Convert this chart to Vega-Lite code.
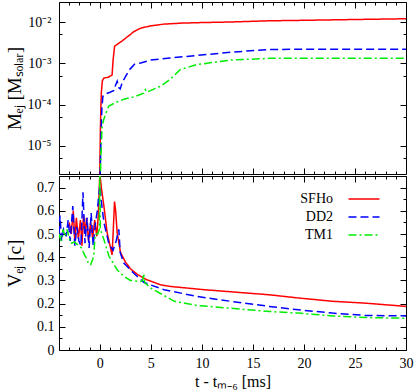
{
  "$schema": "https://vega.github.io/schema/vega-lite/v6.json",
  "autosize": {"type": "pad"},
  "padding": {"left": 4, "top": 1, "right": 10, "bottom": 0},
  "spacing": 0,
  "resolve": {"scale": {"color": "independent", "strokeDash": "independent"}, "legend": {"color": "independent", "strokeDash": "independent"}},
  "config": {
    "view": {"stroke": "#000", "strokeWidth": 1},
    "axis": {"domain": false, "grid": false, "minExtent": 0, "tickColor": "#000", "tickWidth": 1, "labelColor": "#000", "titleColor": "#000", "labelFont": "Liberation Serif", "titleFont": "Liberation Serif", "labelFontSize": 14, "titleFontSize": 16, "titleFontWeight": "normal", "labelFlush": false, "labelOverlap": false, "labelBound": false},
    "axisX": {"minExtent": 0},
    "axisY": {"minExtent": 0},
    "legend": {"labelFont": "Liberation Serif", "labelFontSize": 14, "labelColor": "#000"}
  },
  "datasets": {
    "mass": [
      {"eos": "SFHo", "t": -0.05, "m": 1e-6}, {"eos": "SFHo", "t": 0.0, "m": 3e-6}, {"eos": "SFHo", "t": 0.05, "m": 2e-5}, {"eos": "SFHo", "t": 0.1, "m": 8e-5}, {"eos": "SFHo", "t": 0.15, "m": 2e-4}, {"eos": "SFHo", "t": 0.25, "m": 3.8e-4}, {"eos": "SFHo", "t": 0.4, "m": 4.4e-4}, {"eos": "SFHo", "t": 0.8, "m": 4.6e-4}, {"eos": "SFHo", "t": 1.2, "m": 5.2e-4}, {"eos": "SFHo", "t": 1.3, "m": 1.2e-3}, {"eos": "SFHo", "t": 1.45, "m": 2.6e-3}, {"eos": "SFHo", "t": 1.8, "m": 3.0e-3}, {"eos": "SFHo", "t": 2.2, "m": 3.5e-3}, {"eos": "SFHo", "t": 2.7, "m": 4.4e-3}, {"eos": "SFHo", "t": 3.0, "m": 5.0e-3}, {"eos": "SFHo", "t": 3.3, "m": 5.8e-3}, {"eos": "SFHo", "t": 4.0, "m": 7.1e-3}, {"eos": "SFHo", "t": 5.0, "m": 8.1e-3}, {"eos": "SFHo", "t": 6.3, "m": 8.9e-3}, {"eos": "SFHo", "t": 8.0, "m": 9.4e-3}, {"eos": "SFHo", "t": 10.0, "m": 9.7e-3}, {"eos": "SFHo", "t": 12.8, "m": 1.0e-2}, {"eos": "SFHo", "t": 16.6, "m": 1.07e-2}, {"eos": "SFHo", "t": 20, "m": 1.1e-2}, {"eos": "SFHo", "t": 25, "m": 1.15e-2}, {"eos": "SFHo", "t": 30, "m": 1.2e-2},
      {"eos": "DD2", "t": -0.02, "m": 1e-6}, {"eos": "DD2", "t": 0.05, "m": 3e-6}, {"eos": "DD2", "t": 0.12, "m": 2e-5}, {"eos": "DD2", "t": 0.2, "m": 8e-5}, {"eos": "DD2", "t": 0.3, "m": 1.6e-4}, {"eos": "DD2", "t": 0.5, "m": 1.8e-4}, {"eos": "DD2", "t": 1.0, "m": 2.0e-4}, {"eos": "DD2", "t": 1.4, "m": 2.2e-4}, {"eos": "DD2", "t": 1.55, "m": 3.0e-4}, {"eos": "DD2", "t": 1.7, "m": 3.7e-4}, {"eos": "DD2", "t": 1.85, "m": 2.6e-4}, {"eos": "DD2", "t": 2.0, "m": 2.4e-4}, {"eos": "DD2", "t": 2.2, "m": 3.5e-4}, {"eos": "DD2", "t": 2.5, "m": 4.7e-4}, {"eos": "DD2", "t": 2.9, "m": 7.0e-4}, {"eos": "DD2", "t": 3.4, "m": 9.5e-4}, {"eos": "DD2", "t": 4.0, "m": 1.02e-3}, {"eos": "DD2", "t": 5.0, "m": 1.2e-3}, {"eos": "DD2", "t": 6.9, "m": 1.35e-3}, {"eos": "DD2", "t": 9.5, "m": 1.55e-3}, {"eos": "DD2", "t": 12.8, "m": 1.86e-3}, {"eos": "DD2", "t": 16.6, "m": 2.16e-3}, {"eos": "DD2", "t": 20, "m": 2.2e-3}, {"eos": "DD2", "t": 25, "m": 2.2e-3}, {"eos": "DD2", "t": 30, "m": 2.2e-3},
      {"eos": "TM1", "t": 0.0, "m": 1e-6}, {"eos": "TM1", "t": 0.08, "m": 3e-6}, {"eos": "TM1", "t": 0.15, "m": 1.2e-5}, {"eos": "TM1", "t": 0.23, "m": 3.1e-5}, {"eos": "TM1", "t": 0.4, "m": 4.5e-5}, {"eos": "TM1", "t": 0.56, "m": 5.9e-5}, {"eos": "TM1", "t": 0.88, "m": 9.3e-5}, {"eos": "TM1", "t": 1.54, "m": 1.12e-4}, {"eos": "TM1", "t": 2.35, "m": 1.35e-4}, {"eos": "TM1", "t": 3.0, "m": 1.48e-4}, {"eos": "TM1", "t": 3.4, "m": 1.55e-4}, {"eos": "TM1", "t": 4.3, "m": 1.9e-4}, {"eos": "TM1", "t": 4.45, "m": 2.3e-4}, {"eos": "TM1", "t": 4.6, "m": 2.0e-4}, {"eos": "TM1", "t": 5.95, "m": 2.8e-4}, {"eos": "TM1", "t": 6.9, "m": 4.1e-4}, {"eos": "TM1", "t": 7.9, "m": 7.1e-4}, {"eos": "TM1", "t": 9.5, "m": 9.3e-4}, {"eos": "TM1", "t": 12.8, "m": 1.2e-3}, {"eos": "TM1", "t": 16.6, "m": 1.32e-3}, {"eos": "TM1", "t": 20, "m": 1.32e-3}, {"eos": "TM1", "t": 30, "m": 1.32e-3}
    ],
    "vel": [
      {"eos": "SFHo", "t": -3.0, "v": 0.55}, {"eos": "SFHo", "t": -2.8, "v": 0.5}, {"eos": "SFHo", "t": -2.6, "v": 0.6}, {"eos": "SFHo", "t": -2.45, "v": 0.47}, {"eos": "SFHo", "t": -2.3, "v": 0.57}, {"eos": "SFHo", "t": -2.1, "v": 0.48}, {"eos": "SFHo", "t": -1.9, "v": 0.56}, {"eos": "SFHo", "t": -1.75, "v": 0.45}, {"eos": "SFHo", "t": -1.6, "v": 0.58}, {"eos": "SFHo", "t": -1.45, "v": 0.5}, {"eos": "SFHo", "t": -1.3, "v": 0.57}, {"eos": "SFHo", "t": -1.1, "v": 0.47}, {"eos": "SFHo", "t": -0.9, "v": 0.55}, {"eos": "SFHo", "t": -0.7, "v": 0.48}, {"eos": "SFHo", "t": -0.5, "v": 0.56}, {"eos": "SFHo", "t": -0.3, "v": 0.49}, {"eos": "SFHo", "t": -0.15, "v": 0.58}, {"eos": "SFHo", "t": 0.0, "v": 0.76}, {"eos": "SFHo", "t": 0.15, "v": 0.7}, {"eos": "SFHo", "t": 0.4, "v": 0.62}, {"eos": "SFHo", "t": 0.72, "v": 0.505}, {"eos": "SFHo", "t": 1.05, "v": 0.44}, {"eos": "SFHo", "t": 1.2, "v": 0.41}, {"eos": "SFHo", "t": 1.3, "v": 0.5}, {"eos": "SFHo", "t": 1.44, "v": 0.64}, {"eos": "SFHo", "t": 1.55, "v": 0.6}, {"eos": "SFHo", "t": 1.7, "v": 0.505}, {"eos": "SFHo", "t": 2.03, "v": 0.42}, {"eos": "SFHo", "t": 2.5, "v": 0.38}, {"eos": "SFHo", "t": 3.0, "v": 0.35}, {"eos": "SFHo", "t": 3.7, "v": 0.325}, {"eos": "SFHo", "t": 4.6, "v": 0.303}, {"eos": "SFHo", "t": 5.95, "v": 0.281}, {"eos": "SFHo", "t": 6.9, "v": 0.274}, {"eos": "SFHo", "t": 10.2, "v": 0.26}, {"eos": "SFHo", "t": 16.6, "v": 0.238}, {"eos": "SFHo", "t": 19.5, "v": 0.224}, {"eos": "SFHo", "t": 22.8, "v": 0.21}, {"eos": "SFHo", "t": 26, "v": 0.202}, {"eos": "SFHo", "t": 30, "v": 0.188},
      {"eos": "DD2", "t": -4.0, "v": 0.5}, {"eos": "DD2", "t": -3.9, "v": 0.58}, {"eos": "DD2", "t": -3.75, "v": 0.47}, {"eos": "DD2", "t": -3.55, "v": 0.52}, {"eos": "DD2", "t": -3.3, "v": 0.49}, {"eos": "DD2", "t": -3.1, "v": 0.56}, {"eos": "DD2", "t": -2.9, "v": 0.47}, {"eos": "DD2", "t": -2.65, "v": 0.62}, {"eos": "DD2", "t": -2.45, "v": 0.45}, {"eos": "DD2", "t": -2.25, "v": 0.53}, {"eos": "DD2", "t": -2.05, "v": 0.47}, {"eos": "DD2", "t": -1.85, "v": 0.45}, {"eos": "DD2", "t": -1.65, "v": 0.68}, {"eos": "DD2", "t": -1.45, "v": 0.46}, {"eos": "DD2", "t": -1.25, "v": 0.57}, {"eos": "DD2", "t": -1.05, "v": 0.44}, {"eos": "DD2", "t": -0.85, "v": 0.59}, {"eos": "DD2", "t": -0.65, "v": 0.45}, {"eos": "DD2", "t": -0.45, "v": 0.54}, {"eos": "DD2", "t": -0.25, "v": 0.6}, {"eos": "DD2", "t": 0.0, "v": 0.71}, {"eos": "DD2", "t": 0.15, "v": 0.64}, {"eos": "DD2", "t": 0.4, "v": 0.55}, {"eos": "DD2", "t": 0.9, "v": 0.455}, {"eos": "DD2", "t": 1.3, "v": 0.43}, {"eos": "DD2", "t": 1.6, "v": 0.47}, {"eos": "DD2", "t": 1.86, "v": 0.52}, {"eos": "DD2", "t": 2.0, "v": 0.42}, {"eos": "DD2", "t": 2.35, "v": 0.375}, {"eos": "DD2", "t": 3.3, "v": 0.332}, {"eos": "DD2", "t": 4.3, "v": 0.292}, {"eos": "DD2", "t": 5.0, "v": 0.28}, {"eos": "DD2", "t": 6.3, "v": 0.26}, {"eos": "DD2", "t": 9.5, "v": 0.231}, {"eos": "DD2", "t": 12.8, "v": 0.21}, {"eos": "DD2", "t": 16.6, "v": 0.188}, {"eos": "DD2", "t": 19.5, "v": 0.173}, {"eos": "DD2", "t": 22.8, "v": 0.159}, {"eos": "DD2", "t": 26, "v": 0.149}, {"eos": "DD2", "t": 30, "v": 0.147},
      {"eos": "TM1", "t": -4.0, "v": 0.5}, {"eos": "TM1", "t": -3.8, "v": 0.47}, {"eos": "TM1", "t": -3.6, "v": 0.52}, {"eos": "TM1", "t": -3.4, "v": 0.49}, {"eos": "TM1", "t": -3.2, "v": 0.52}, {"eos": "TM1", "t": -3.0, "v": 0.48}, {"eos": "TM1", "t": -2.8, "v": 0.46}, {"eos": "TM1", "t": -2.5, "v": 0.465}, {"eos": "TM1", "t": -2.2, "v": 0.455}, {"eos": "TM1", "t": -1.8, "v": 0.44}, {"eos": "TM1", "t": -1.5, "v": 0.41}, {"eos": "TM1", "t": -1.24, "v": 0.39}, {"eos": "TM1", "t": -1.1, "v": 0.37}, {"eos": "TM1", "t": -0.9, "v": 0.368}, {"eos": "TM1", "t": -0.7, "v": 0.39}, {"eos": "TM1", "t": -0.6, "v": 0.404}, {"eos": "TM1", "t": -0.45, "v": 0.5}, {"eos": "TM1", "t": -0.2, "v": 0.5}, {"eos": "TM1", "t": -0.05, "v": 0.52}, {"eos": "TM1", "t": 0.0, "v": 0.8}, {"eos": "TM1", "t": 0.05, "v": 0.52}, {"eos": "TM1", "t": 0.4, "v": 0.476}, {"eos": "TM1", "t": 0.9, "v": 0.404}, {"eos": "TM1", "t": 1.7, "v": 0.346}, {"eos": "TM1", "t": 2.35, "v": 0.318}, {"eos": "TM1", "t": 3.0, "v": 0.3}, {"eos": "TM1", "t": 4.0, "v": 0.295}, {"eos": "TM1", "t": 4.2, "v": 0.3}, {"eos": "TM1", "t": 4.3, "v": 0.33}, {"eos": "TM1", "t": 4.4, "v": 0.29}, {"eos": "TM1", "t": 5.0, "v": 0.267}, {"eos": "TM1", "t": 7.3, "v": 0.21}, {"eos": "TM1", "t": 9.5, "v": 0.192}, {"eos": "TM1", "t": 12.8, "v": 0.18}, {"eos": "TM1", "t": 16.6, "v": 0.166}, {"eos": "TM1", "t": 19.5, "v": 0.159}, {"eos": "TM1", "t": 22.8, "v": 0.147}, {"eos": "TM1", "t": 26, "v": 0.14}, {"eos": "TM1", "t": 30, "v": 0.137}
    ]
  },
  "vconcat": [
    {
      "width": 347,
      "height": 172,
      "data": {"name": "mass"},
      "resolve": {"axis": {"x": "independent", "y": "independent"}},
      "layer": [
        {
          "mark": {"type": "line", "clip": true, "strokeWidth": 1.5},
          "encoding": {
            "x": {"field": "t", "type": "quantitative", "scale": {"domain": [-4, 30], "nice": false, "zero": false},
                  "axis": {"orient": "bottom", "values": [0, 5, 10, 15, 20, 25, 30], "tickSize": -6, "labels": false, "title": null}},
            "y": {"field": "m", "type": "quantitative", "scale": {"type": "log", "domain": [2.1e-6, 3.05e-2], "nice": false},
                  "axis": {"orient": "left", "values": [1e-5, 1e-4, 1e-3, 1e-2], "tickSize": -6, "labelPadding": 14,
                           "labelExpr": "datum.value < 2e-5 ? '10⁻⁵' : datum.value < 2e-4 ? '10⁻⁴' : datum.value < 2e-3 ? '10⁻³' : '10⁻²'",
                           "title": "Mₑⱼ [Mₛₒₗₐᵣ]", "titleFontSize": 19, "titlePadding": 3}},
            "color": {"field": "eos", "type": "nominal", "scale": {"domain": ["SFHo", "DD2", "TM1"], "range": ["#ff0000", "#0000ff", "#00ee00"]}, "legend": null},
            "strokeDash": {"field": "eos", "type": "nominal", "scale": {"domain": ["SFHo", "DD2", "TM1"], "range": [[1, 0], [8, 4], [8, 3, 2, 3]]}, "legend": null},
            "order": {"field": "t", "type": "quantitative"}
          }
        },
        {
          "mark": {"type": "point", "opacity": 0, "clip": true},
          "encoding": {
            "x": {"field": "t", "type": "quantitative", "axis": {"orient": "bottom", "values": [-4, -3, -2, -1, 1, 2, 3, 4, 6, 7, 8, 9, 11, 12, 13, 14, 16, 17, 18, 19, 21, 22, 23, 24, 26, 27, 28, 29], "tickSize": -3, "labels": false, "title": null}},
            "y": {"field": "m", "type": "quantitative", "axis": {"orient": "left", "values": [5e-6, 5e-5, 5e-4, 5e-3], "tickSize": -3, "labels": false, "title": null}}
          }
        },
        {
          "mark": {"type": "point", "opacity": 0, "clip": true},
          "encoding": {
            "x": {"field": "t", "type": "quantitative", "axis": {"orient": "top", "values": [0, 5, 10, 15, 20, 25, 30], "tickSize": -6, "labels": false, "title": null}},
            "y": {"field": "m", "type": "quantitative", "axis": {"orient": "right", "values": [1e-5, 1e-4, 1e-3, 1e-2], "tickSize": -6, "labels": false, "title": null}}
          }
        },
        {
          "mark": {"type": "point", "opacity": 0, "clip": true},
          "encoding": {
            "x": {"field": "t", "type": "quantitative", "axis": {"orient": "top", "values": [-4, -3, -2, -1, 1, 2, 3, 4, 6, 7, 8, 9, 11, 12, 13, 14, 16, 17, 18, 19, 21, 22, 23, 24, 26, 27, 28, 29], "tickSize": -3, "labels": false, "title": null}},
            "y": {"field": "m", "type": "quantitative", "axis": {"orient": "right", "values": [5e-6, 5e-5, 5e-4, 5e-3], "tickSize": -3, "labels": false, "title": null}}
          }
        }
      ]
    },
    {
      "width": 347,
      "height": 174,
      "data": {"name": "vel"},
      "resolve": {"axis": {"x": "independent", "y": "independent"}},
      "layer": [
        {
          "mark": {"type": "line", "clip": true, "strokeWidth": 1.5},
          "encoding": {
            "x": {"field": "t", "type": "quantitative", "scale": {"domain": [-4, 30], "nice": false, "zero": false},
                  "axis": {"orient": "bottom", "values": [0, 5, 10, 15, 20, 25, 30], "tickSize": -6, "labelPadding": 12, "title": "t - tₘ₋₆ [ms]", "titlePadding": 3}},
            "y": {"field": "v", "type": "quantitative", "scale": {"domain": [0, 0.75], "nice": false},
                  "axis": {"orient": "left", "values": [0, 0.1, 0.2, 0.3, 0.4, 0.5, 0.6, 0.7], "tickSize": -6, "labelPadding": 11, "format": "~g",
                           "title": "Vₑⱼ [c]", "titleFontSize": 19, "titlePadding": 12}},
            "color": {"field": "eos", "type": "nominal", "scale": {"domain": ["SFHo", "DD2", "TM1"], "range": ["#ff0000", "#0000ff", "#00ee00"]},
                      "legend": {"orient": "none", "legendX": 294, "legendY": 12, "title": null, "symbolType": "M-1.55,0H1.55", "symbolSize": 400, "symbolStrokeWidth": 1.5, "labelAlign": "right", "labelOffset": -42, "rowPadding": -2, "padding": 0}},
            "strokeDash": {"field": "eos", "type": "nominal", "scale": {"domain": ["SFHo", "DD2", "TM1"], "range": [[1, 0], [8, 4], [8, 3, 2, 3]]},
                      "legend": {"orient": "none", "legendX": 294, "legendY": 12, "title": null, "symbolType": "M-1.55,0H1.55", "symbolSize": 400, "symbolStrokeWidth": 1.5, "labelAlign": "right", "labelOffset": -42, "rowPadding": -2, "padding": 0}},
            "order": {"field": "t", "type": "quantitative"}
          }
        },
        {
          "mark": {"type": "point", "opacity": 0, "clip": true},
          "encoding": {
            "x": {"field": "t", "type": "quantitative", "axis": {"orient": "bottom", "values": [-4, -3, -2, -1, 1, 2, 3, 4, 6, 7, 8, 9, 11, 12, 13, 14, 16, 17, 18, 19, 21, 22, 23, 24, 26, 27, 28, 29], "tickSize": -3, "labels": false, "title": null}},
            "y": {"field": "v", "type": "quantitative", "axis": {"orient": "left", "values": [0.05, 0.15, 0.25, 0.35, 0.45, 0.55, 0.65], "tickSize": -3, "labels": false, "title": null}}
          }
        },
        {
          "mark": {"type": "point", "opacity": 0, "clip": true},
          "encoding": {
            "x": {"field": "t", "type": "quantitative", "axis": {"orient": "top", "values": [0, 5, 10, 15, 20, 25, 30], "tickSize": -6, "labels": false, "title": null}},
            "y": {"field": "v", "type": "quantitative", "axis": {"orient": "right", "values": [0, 0.1, 0.2, 0.3, 0.4, 0.5, 0.6, 0.7], "tickSize": -6, "labels": false, "title": null}}
          }
        },
        {
          "mark": {"type": "point", "opacity": 0, "clip": true},
          "encoding": {
            "x": {"field": "t", "type": "quantitative", "axis": {"orient": "top", "values": [-4, -3, -2, -1, 1, 2, 3, 4, 6, 7, 8, 9, 11, 12, 13, 14, 16, 17, 18, 19, 21, 22, 23, 24, 26, 27, 28, 29], "tickSize": -3, "labels": false, "title": null}},
            "y": {"field": "v", "type": "quantitative", "axis": {"orient": "right", "values": [0.05, 0.15, 0.25, 0.35, 0.45, 0.55, 0.65], "tickSize": -3, "labels": false, "title": null}}
          }
        }
      ]
    }
  ]
}
